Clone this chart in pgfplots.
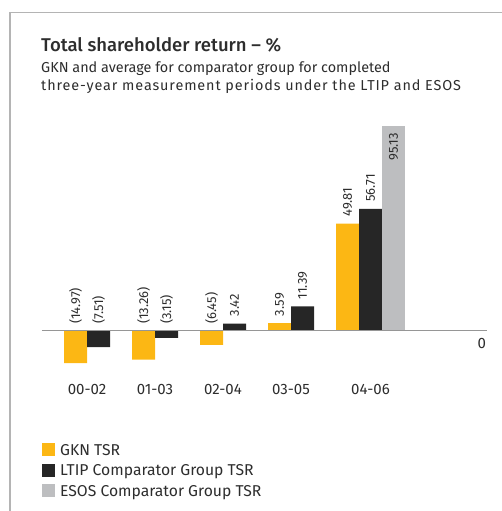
\documentclass[border=0pt]{standalone}
\usepackage{fontspec}
\setmainfont{Fira Sans}
\newfontfamily\titlefont{Fira Sans Medium}
\usepackage{pgfplots}
\pgfplotsset{compat=1.18}
\definecolor{gkn}{RGB}{252,183,20}
\definecolor{ltip}{RGB}{38,38,38}
\definecolor{esos}{RGB}{189,190,192}
\definecolor{txt}{RGB}{45,45,45}
\definecolor{frame}{RGB}{180,180,180}
\definecolor{zline}{RGB}{150,150,150}
\begin{document}
\begin{tikzpicture}[x=1pt,y=1pt]
\path[use as bounding box] (0,0) rectangle (502,-511);
\draw[frame, line width=1.2pt] (10,-511) -- (10,-12.3) -- (502,-12.3);
\node[anchor=base west, inner sep=0pt, text=txt, font=\fontsize{18.5}{18.5}\titlefont] at (41,-51.7) {Total shareholder return – \%};
\node[anchor=base west, inner sep=0pt, text=txt, font=\fontsize{14.4}{14.4}\selectfont] at (41,-72.3) {GKN and average for comparator group for completed};
\node[anchor=base west, inner sep=0pt, text=txt, font=\fontsize{14.4}{14.4}\selectfont\addfontfeature{LetterSpace=6.2}] at (41,-90) {three-year measurement periods under the LTIP and ESOS};
\begin{axis}[
  at={(42pt,-363.3pt)}, anchor=south west,
  scale only axis, width=445pt, height=237.3pt,
  xmin=42, xmax=487, ymin=-15, ymax=95.13,
  axis lines*=left, axis line style={draw=none},
  major tick length=0pt, ytick=\empty,
  xtick={87,155,223,291,370.5},
  xticklabels={00-02,01-03,02-04,03-05,04-06},
  xticklabel style={anchor=north, yshift=-17pt, text=txt, font=\fontsize{15}{15}\selectfont},
  clip=false,
  legend style={at={(0,-0.335)}, anchor=north west, draw=none, fill=none,
    inner sep=0pt, font=\fontsize{15.7}{15.7}\selectfont, text=txt,
    nodes={inner sep=0pt, text depth=0pt}, row sep=7.6pt, column sep=5pt},
  legend cell align=left,
]
\addplot[ybar, bar width=23, bar shift=0pt, fill=gkn, draw=none,
  legend image code/.code={\fill[gkn] (0pt,-6.5pt) rectangle (13pt,6.5pt);}]
  coordinates {(75.5,-14.97) (143.5,-13.26) (211.5,-6.45) (279.5,3.59) (347.5,49.81)};
\addlegendentry{GKN TSR}
\addplot[ybar, bar width=23, bar shift=0pt, fill=ltip, draw=none,
  legend image code/.code={\fill[ltip] (0pt,-6.5pt) rectangle (13pt,6.5pt);}]
  coordinates {(98.5,-7.51) (166.5,-3.15) (234.5,3.42) (302.5,11.39) (370.5,56.71)};
\addlegendentry{LTIP Comparator Group TSR}
\addplot[ybar, bar width=23, bar shift=0pt, fill=esos, draw=none,
  legend image code/.code={\fill[esos] (0pt,-6.5pt) rectangle (13pt,6.5pt);}]
  coordinates {(393.5,95.13)};
\addlegendentry{ESOS Comparator Group TSR}
\addplot[zline, line width=1pt, forget plot] coordinates {(42,0) (487,0)};
\addplot[draw=none, no markers, forget plot, nodes near coords, point meta=explicit symbolic,
  every node near coord/.style={rotate=90, anchor=west, inner sep=0pt, text=txt, font=\fontsize{13}{13}\selectfont}]
  coordinates {(75.5,3.25) [(14.97)] (98.5,3.25) [(7.51)] (143.5,3.25) [(13.26)] (166.5,3.25) [(3.15)]
   (211.5,3.25) [(6.45)] (234.5,6.67) [3.42] (279.5,6.84) [3.59] (302.5,14.64) [11.39]
   (347.5,53.06) [49.81] (370.5,59.96) [56.71]};
\addplot[draw=none, no markers, forget plot, nodes near coords, point meta=explicit symbolic,
  every node near coord/.style={rotate=90, anchor=east, inner sep=0pt, text=txt, font=\fontsize{13}{13}\selectfont}]
  coordinates {(393.5,91.88) [95.13]};
\end{axis}
\node[anchor=center, inner sep=0pt, text=txt, font=\fontsize{15}{15}\selectfont] at (481.7,-343) {0};
\end{tikzpicture}
\end{document}
